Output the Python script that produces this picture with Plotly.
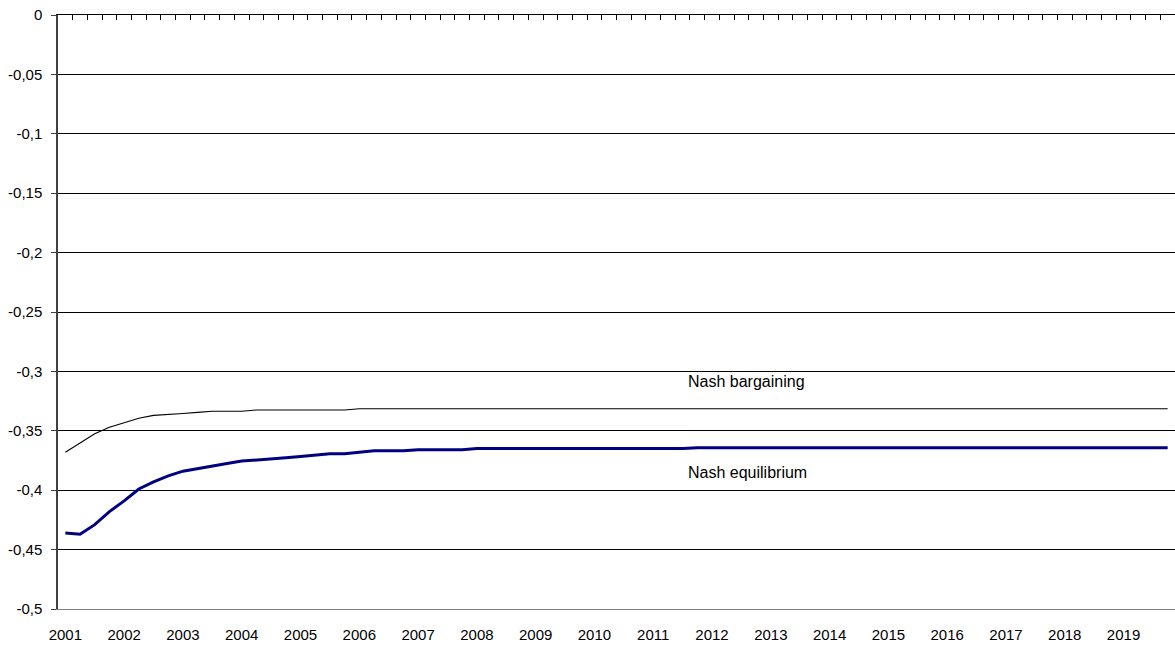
import plotly.graph_objects as go

# Quarterly categories 2001Q1 .. 2019Q4
years = list(range(2001, 2020))
quarters = [f"{y}Q{q}" for y in years for q in range(1, 5)]
year_labels = [str(y) for y in years]

nash_bargaining = (
    [-0.368, -0.360, -0.3525, -0.347, -0.343, -0.3395, -0.337, -0.3365,
     -0.3355, -0.3345, -0.3335, -0.3335, -0.3335, -0.3325, -0.3325, -0.3325,
     -0.3325, -0.3325, -0.3325, -0.3325]
    + [-0.3315] * 56
)

nash_equilibrium = (
    [-0.436, -0.437, -0.429, -0.418, -0.409, -0.399, -0.393, -0.388,
     -0.384, -0.3817, -0.3794, -0.3775, -0.3755, -0.3747, -0.3738, -0.3727,
     -0.3716, -0.3704, -0.3693, -0.3693, -0.368, -0.3668, -0.3668, -0.3668,
     -0.366, -0.366, -0.366, -0.366]
    + [-0.365] * 15
    + [-0.3642] * 33
)

y_ticks = [0, -0.05, -0.1, -0.15, -0.2, -0.25, -0.3, -0.35, -0.4, -0.45, -0.5]
y_tick_text = ["0", "-0,05", "-0,1", "-0,15", "-0,2", "-0,25", "-0,3", "-0,35",
               "-0,4", "-0,45", "-0,5"]

idx = list(range(len(quarters)))
FONT = "Liberation Sans, Arial, sans-serif"

fig = go.Figure()
fig.add_trace(go.Scatter(x=idx, y=nash_bargaining, mode="lines",
                         line=dict(color="#000000", width=1.1),
                         name="Nash bargaining", hoverinfo="y"))
fig.add_trace(go.Scatter(x=idx, y=nash_equilibrium, mode="lines",
                         line=dict(color="#000080", width=3),
                         name="Nash equilibrium", hoverinfo="y"))
# invisible trace to activate the top category axis
fig.add_trace(go.Scatter(x=[idx[0]], y=[0], xaxis="x2", mode="markers",
                         marker=dict(opacity=0), showlegend=False, hoverinfo="skip"))

n = len(quarters)
fig.update_layout(
    width=1175, height=646,
    margin=dict(l=58, r=0, t=15, b=37),
    paper_bgcolor="white", plot_bgcolor="white",
    showlegend=False,
    font=dict(family=FONT, size=15, color="#000000"),
    xaxis=dict(
        range=[-0.5, n - 0.5],
        tickmode="array",
        tickvals=idx[::4],
        ticktext=year_labels,
        showgrid=False, zeroline=False,
        showline=True, linecolor="#808080", linewidth=1,
        ticks="", ticklabelstandoff=12,
        tickfont=dict(family=FONT, size=15, color="#000000"),
    ),
    xaxis2=dict(
        overlaying="x", side="top", matches="x",
        range=[-0.5, n - 0.5],
        tickmode="array",
        tickvals=[i + 0.5 for i in idx],
        showticklabels=False,
        ticks="inside", ticklen=5, tickwidth=1, tickcolor="#000000",
        showgrid=False, zeroline=False,
        showline=True, linecolor="#000000", linewidth=1,
    ),
    yaxis=dict(
        range=[-0.5, 0],
        tickmode="array",
        tickvals=y_ticks,
        ticktext=y_tick_text,
        showgrid=True, gridcolor="#000000", gridwidth=1,
        zeroline=False,
        showline=True, linecolor="#404040", linewidth=1.5,
        ticks="outside", ticklen=5, tickwidth=1, tickcolor="#404040",
        ticklabelstandoff=6,
        tickfont=dict(family=FONT, size=15, color="#000000"),
    ),
    annotations=[
        dict(x=42.2, y=-0.3085, xref="x", yref="y", text="Nash bargaining",
             showarrow=False, xanchor="left", yanchor="middle",
             font=dict(family=FONT, size=16, color="#000000")),
        dict(x=42.2, y=-0.3853, xref="x", yref="y", text="Nash equilibrium",
             showarrow=False, xanchor="left", yanchor="middle",
             font=dict(family=FONT, size=16, color="#000000")),
    ],
)

fig.write_html(
    "out.html",
    config={"displayModeBar": False},
    post_script="document.body.style.margin='0';"
                "document.documentElement.style.overflow='hidden';"
                "document.body.style.overflow='hidden';",
)
